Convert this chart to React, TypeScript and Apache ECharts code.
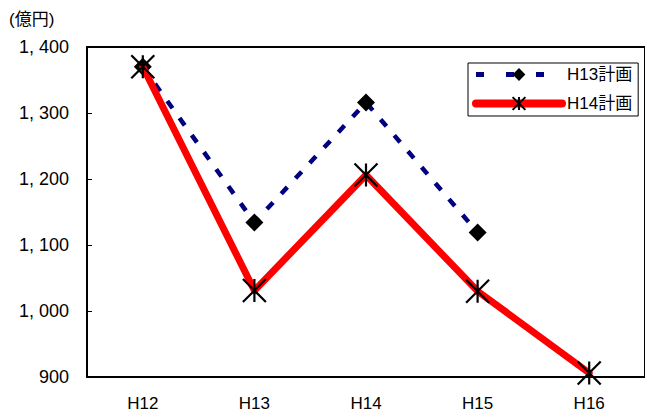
import React, { useEffect, useRef } from "react";
import * as echarts from "echarts";

const categories = ["H12", "H13", "H14", "H15", "H16"];
const planH13 = [1370, 1134, 1316, 1119, null];
const planH14 = [1370, 1031, 1206, 1030, 906];
const yTicks = { min: 900, max: 1400, interval: 100 };
const unitLabel = "(億円)";
const seriesNames = ["H13計画", "H14計画"];

const FONT = "'Liberation Sans', Arial, 'Noto Sans CJK JP', sans-serif";

export default function App() {
  const ref = useRef<HTMLDivElement>(null);
  useEffect(() => {
    if (!ref.current) return;
    const chart = echarts.init(ref.current, undefined, { renderer: "svg" });
    chart.setOption({
      animation: false,
      backgroundColor: "#fff",
      title: {
        text: unitLabel,
        left: 4,
        top: 6,
        textStyle: { fontSize: 17, fontWeight: "normal", color: "#000", fontFamily: FONT },
      },
      grid: {
        left: 87,
        top: 47,
        right: -4,
        bottom: 39,
        show: true,
        borderColor: "#000",
        borderWidth: 2,
        backgroundColor: "transparent",
      },
      legend: {
        orient: "vertical",
        left: 468,
        top: 63,
        data: [
          { name: seriesNames[0], lineStyle: { width: 5, type: [8, 22] } },
          { name: seriesNames[1], lineStyle: { width: 8 } },
        ],
        itemWidth: 86,
        itemHeight: 16,
        itemGap: 12,
        padding: [3, 6, 4, 4],
        borderColor: "#000",
        borderWidth: 1,
        textStyle: { fontSize: 17, color: "#000", fontFamily: FONT },
      },
      xAxis: {
        type: "category",
        data: categories,
        boundaryGap: true,
        axisLine: { lineStyle: { color: "#000", width: 2 } },
        axisTick: { inside: true, length: 5, lineStyle: { color: "#000", width: 1 } },
        axisLabel: { color: "#000", fontSize: 17, margin: 18, fontFamily: FONT },
      },
      yAxis: {
        type: "value",
        min: yTicks.min,
        max: yTicks.max,
        interval: yTicks.interval,
        splitLine: { show: false },
        axisLine: { show: true, lineStyle: { color: "#000", width: 2 } },
        axisTick: { show: true, inside: true, length: 5, lineStyle: { color: "#000", width: 1 } },
        axisLabel: {
          color: "#000",
          fontSize: 18,
          margin: 18,
          fontFamily: FONT,
          formatter: (v: number) => {
            const s = String(v);
            return s.length > 3 ? s.slice(0, s.length - 3) + ", " + s.slice(-3) : s;
          },
        },
      },
      series: [
        {
          name: seriesNames[0],
          type: "line",
          data: planH13,
          symbol: "diamond",
          symbolSize: 18,
          color: "#000080",
          itemStyle: { color: "#000" },
          lineStyle: { color: "#000080", width: 4.5, type: [9, 12] },
          z: 2,
        },
        {
          name: seriesNames[1],
          type: "line",
          data: planH14,
          symbol: "path://M0,0L20,20M20,0L0,20M10,0L10,20",
          symbolSize: 23,
          color: "#ff0000",
          itemStyle: { color: "#000", borderColor: "#000", borderWidth: 2.2 },
          lineStyle: { color: "#ff0000", width: 7, cap: "round", join: "round" },
          z: 3,
        },
      ],
    });
    return () => chart.dispose();
  }, []);
  return (
    <div
      ref={ref}
      style={{ position: "fixed", left: 0, top: 0, width: 645, height: 416, background: "#fff" }}
    />
  );
}
